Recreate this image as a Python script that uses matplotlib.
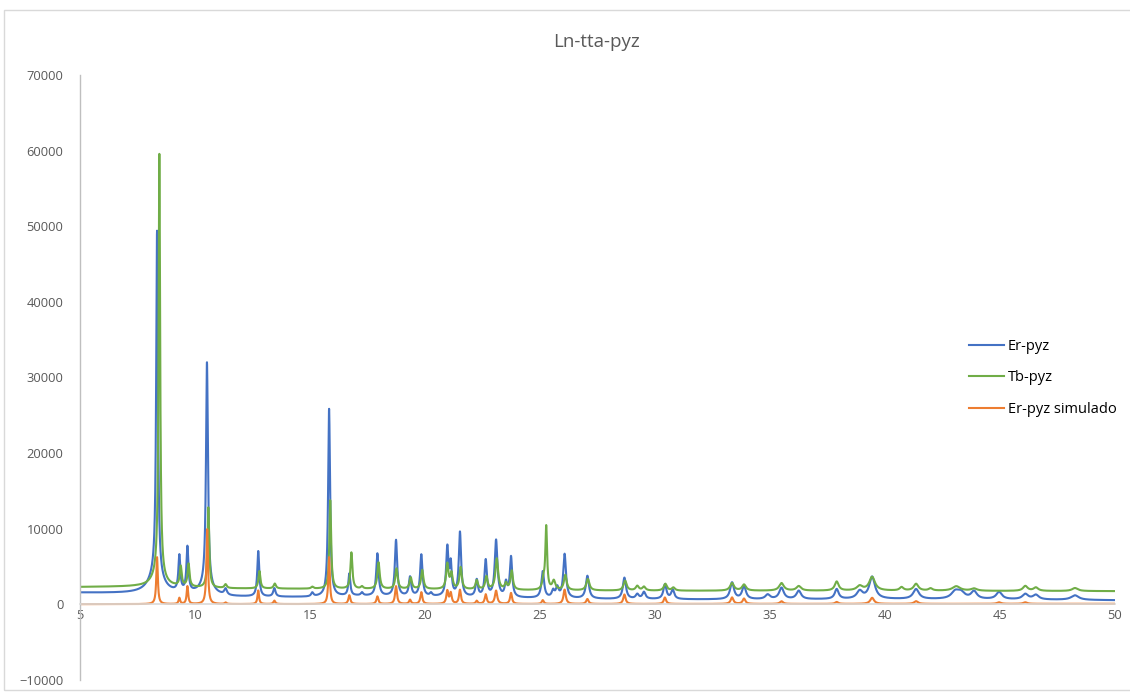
import numpy as np
import matplotlib
matplotlib.use('Agg')
from matplotlib import pyplot as plt
from matplotlib.patches import Rectangle

# peak lists: position (2theta), height above baseline, half width
er_pos = [8.35, 8.30, 9.32, 9.67, 10.52, 10.50, 11.33, 12.75, 13.45, 15.10, 15.83, 16.71, 17.26,
          17.93, 18.74, 19.35, 19.84, 20.26, 20.97, 21.12, 21.52, 22.25, 22.64, 23.09, 23.52,
          23.74, 25.12, 25.57, 25.75, 26.07, 27.06, 28.67, 29.23, 29.52, 30.43, 30.77, 33.35,
          33.87, 34.90, 35.50, 36.25, 37.90, 38.90, 39.44, 41.35, 43.05, 43.30, 43.87, 44.96,
          46.10, 46.56, 48.26]
er_height = [45500, 2500, 4700, 5900, 29500, 1200, 800, 6000, 1100, 500, 24800, 2900, 400,
             5600, 7400, 2500, 5500, 400, 6400, 4000, 8500, 2200, 4800, 7500, 1800,
             5300, 3500, 900, 1300, 5800, 3000, 2800, 600, 900, 1900, 1200, 2200,
             1700, 600, 1500, 1100, 1300, 1000, 2900, 1300, 900, 800, 1000, 950,
             700, 600, 600]
er_width = [0.045, 0.35, 0.05, 0.05, 0.05, 0.3, 0.07, 0.05, 0.06, 0.06, 0.05, 0.05, 0.06,
            0.06, 0.06, 0.06, 0.06, 0.06, 0.06, 0.05, 0.06, 0.06, 0.06, 0.07, 0.06,
            0.06, 0.07, 0.07, 0.07, 0.07, 0.08, 0.08, 0.08, 0.08, 0.08, 0.08, 0.10,
            0.10, 0.12, 0.12, 0.12, 0.10, 0.15, 0.15, 0.15, 0.20, 0.20, 0.15, 0.15,
            0.15, 0.15, 0.20]
er_base_x = [5, 7.5, 10, 11.5, 15, 17, 20, 25, 28, 32, 35, 40, 45, 50]
er_base_y = [1550, 1450, 1300, 1000, 950, 1100, 1000, 800, 700, 650, 650, 700, 650, 550]

tb_pos = [8.45, 8.40, 9.38, 9.72, 10.58, 11.33, 12.80, 13.47, 15.10, 15.88, 16.80, 17.26,
          17.98, 18.76, 19.38, 19.88, 20.97, 21.15, 21.55, 22.25, 22.67, 23.12, 23.52, 23.77,
          25.15, 25.27, 25.60, 26.10, 27.08, 28.70, 29.23, 29.52, 30.45, 30.80, 33.35, 33.87,
          35.50, 36.25, 37.90, 38.90, 39.44, 40.72, 41.35, 41.98, 43.10, 43.87, 46.10, 46.56,
          48.26]
tb_height = [55800, 1500, 2600, 3000, 10600, 500, 2300, 650, 250, 11700, 4800, 300,
             3500, 2700, 1500, 2500, 3300, 2000, 2900, 1200, 1700, 4100, 800, 2500,
             1200, 8300, 1200, 2000, 1500, 1300, 600, 500, 900, 400, 1000, 800,
             1000, 600, 1200, 600, 1800, 450, 900, 300, 600, 300, 650, 450,
             400]
tb_width = [0.04, 0.3, 0.05, 0.05, 0.045, 0.06, 0.05, 0.06, 0.06, 0.045, 0.05, 0.06,
            0.06, 0.06, 0.06, 0.06, 0.06, 0.06, 0.06, 0.06, 0.06, 0.07, 0.06, 0.06,
            0.06, 0.045, 0.08, 0.07, 0.08, 0.08, 0.08, 0.08, 0.08, 0.08, 0.10, 0.10,
            0.12, 0.12, 0.10, 0.15, 0.15, 0.10, 0.12, 0.10, 0.20, 0.15, 0.12, 0.12,
            0.15]
tb_base_x = [5, 7.5, 11.5, 15, 20, 25, 30, 40, 50]
tb_base_y = [2300, 2350, 2100, 2050, 2000, 1850, 1800, 1800, 1750]

sim_pos = [8.35, 9.32, 9.67, 10.53, 11.33, 12.75, 13.45, 15.83, 16.71, 17.93, 18.74, 19.35,
           19.84, 20.97, 21.12, 21.52, 22.25, 22.64, 23.09, 23.74, 25.12, 26.07, 27.06, 28.67,
           30.43, 33.35, 33.87, 35.50, 37.90, 39.44, 41.35, 44.96, 46.10]
sim_height = [6200, 800, 2350, 9900, 200, 1800, 450, 6200, 1150, 1000, 2350, 550,
              1550, 1700, 1400, 1850, 400, 1250, 1750, 1450, 500, 1900, 650, 1250,
              850, 850, 700, 350, 250, 800, 350, 200, 200]
sim_width = [0.04, 0.04, 0.04, 0.04, 0.05, 0.04, 0.05, 0.04, 0.05, 0.05, 0.05, 0.05,
             0.05, 0.05, 0.05, 0.05, 0.05, 0.05, 0.06, 0.05, 0.05, 0.06, 0.06, 0.06,
             0.06, 0.07, 0.07, 0.08, 0.08, 0.10, 0.10, 0.10, 0.10]
sim_base_x = [5, 50]
sim_base_y = [30, 80]


def pattern(two_theta, pos, height, width, base_x, base_y):
    """Sum of Lorentzian peaks on a piecewise baseline."""
    y = np.interp(two_theta, base_x, base_y).astype(float)
    for p, h, w in zip(pos, height, width):
        y += h / (1 + ((two_theta - p) / w) ** 2)
    return y


two_theta = np.linspace(5, 50, 9001)
er = pattern(two_theta, er_pos, er_height, er_width, er_base_x, er_base_y)
tb = pattern(two_theta, tb_pos, tb_height, tb_width, tb_base_x, tb_base_y)
sim = pattern(two_theta, sim_pos, sim_height, sim_width, sim_base_x, sim_base_y)

plt.rcParams['font.family'] = ['Open Sans', 'DejaVu Sans']

fig = plt.figure(figsize=(11.3, 6.95), dpi=100)
ax = fig.add_axes([80 / 1130, 1 - 680 / 695, (1115 - 80) / 1130, (680 - 75) / 695])

ax.plot(two_theta, er, color='#4472C4', lw=1.5, label='Er-pyz')
ax.plot(two_theta, tb, color='#70AD47', lw=1.5, label='Tb-pyz')
ax.plot(two_theta, sim, color='#ED7D31', lw=1.5, label='Er-pyz simulado')

ax.set_xlim(5, 50)
ax.set_ylim(-10000, 70000)
ax.set_xticks(np.arange(5, 51, 5))
ax.set_yticks(np.arange(-10000, 70001, 10000))

for side in ['top', 'right']:
    ax.spines[side].set_visible(False)
ax.spines['bottom'].set_position(('data', 0))
ax.spines['bottom'].set_color('#D9D9D9')
ax.spines['bottom'].set_linewidth(1.2)
ax.spines['left'].set_color('#BFBFBF')
ax.spines['left'].set_linewidth(1.0)
ax.tick_params(axis='both', length=0, labelsize=9.3, colors='#595959')
ax.tick_params(axis='x', pad=3)
ax.tick_params(axis='y', pad=12)

fig.text(0.528, 1 - 42 / 695, 'Ln-tta-pyz', ha='center', va='center',
         fontsize=13.5, color='#595959')

fig.legend(loc='center left', bbox_to_anchor=(969 / 1130, 1 - 378 / 695),
           frameon=False, fontsize=10.5, borderpad=0, borderaxespad=0,
           handlelength=2.4, handletextpad=0.25, labelspacing=1.15)

fig.patches.append(Rectangle((4 / 1130, 5 / 695), 1.0, 1 - 15 / 695,
                             transform=fig.transFigure, fill=False,
                             edgecolor='#D9D9D9', lw=1.0))

fig.savefig('out.png', dpi=100)
